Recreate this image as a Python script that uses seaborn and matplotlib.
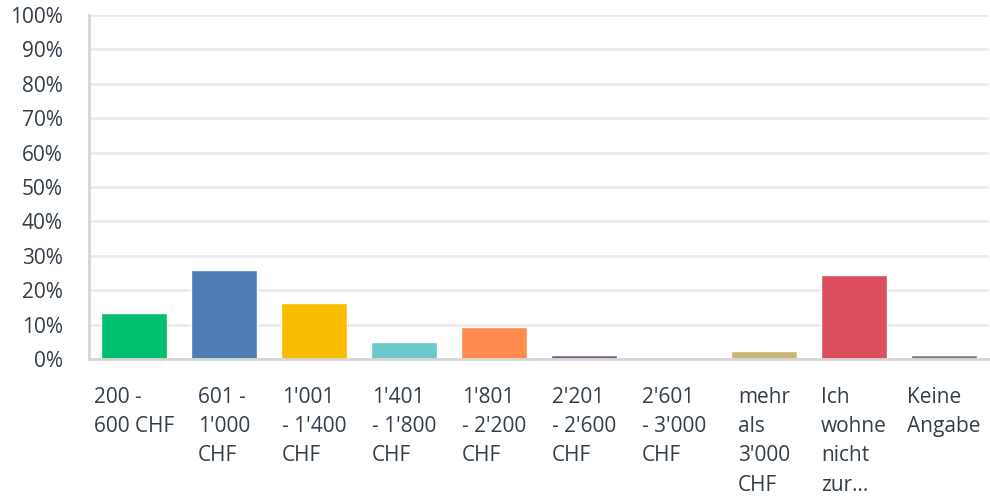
import matplotlib.pyplot as plt
import pandas as pd
import seaborn as sns
import matplotlib.ticker as ticker

# Chart data
categories = [
    "200 -\n600 CHF",
    "601 -\n1'000\nCHF",
    "1'001\n- 1'400\nCHF",
    "1'401\n- 1'800\nCHF",
    "1'801\n- 2'200\nCHF",
    "2'201\n- 2'600\nCHF",
    "2'601\n- 3'000\nCHF",
    "mehr\nals\n3'000\nCHF",
    "Ich\nwohne\nnicht\nzur...",
    "Keine\nAngabe",
]
shares = [13.5, 25.8, 16.2, 5.0, 9.4, 1.2, 0.0, 2.4, 24.3, 1.2]
bar_colors = ["#00BF6F", "#507CB6", "#F9BE00", "#6BC8CD", "#FF8B4F",
              "#7D5E90", "#D25F90", "#C8B677", "#DC4E5E", "#768086"]

text_color = "#333E48"

if __name__ == "__main__":
    df = pd.DataFrame({"Antwort": categories, "Anteil": shares})

    sns.set_theme(style="white")
    plt.rcParams['font.family'] = ['Open Sans', 'DejaVu Sans']

    fig = plt.figure(figsize=(9.9, 4.96), dpi=100)
    ax = fig.add_axes([89 / 990, 137 / 496, 900 / 990, 344 / 496])

    sns.barplot(data=df, x="Antwort", y="Anteil", hue="Antwort",
                palette=bar_colors, legend=False, width=0.74,
                saturation=1, ax=ax)

    ax.set_ylim(0, 100)
    ax.set_xlim(-0.5, len(categories) - 0.5)
    ax.yaxis.set_major_locator(ticker.MultipleLocator(10))
    ax.yaxis.set_major_formatter(ticker.FormatStrFormatter('%d%%'))
    ax.set_xlabel("")
    ax.set_ylabel("")

    # Light horizontal grid behind bars
    ax.set_axisbelow(True)
    ax.yaxis.grid(True, color="#EBEBEB", linewidth=2)
    ax.xaxis.grid(False)

    for side in ["top", "right"]:
        ax.spines[side].set_visible(False)
    for side in ["left", "bottom"]:
        ax.spines[side].set_color("#D5D5D5")
        ax.spines[side].set_linewidth(2)

    ax.tick_params(axis="y", length=0, pad=19, labelsize=15, labelcolor=text_color)
    ax.tick_params(axis="x", length=0, pad=20, labelsize=15, labelcolor=text_color)
    for lbl in ax.get_xticklabels():
        lbl.set_multialignment("left")
        lbl.set_linespacing(1.52)
        lbl.set_verticalalignment("top")

    plt.savefig("out.png", dpi=100)
    plt.close()
